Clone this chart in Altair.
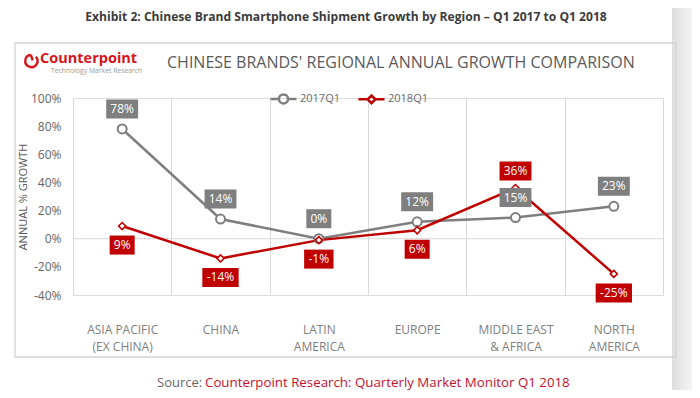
import altair as alt
import pandas as pd

# ---------------- data ----------------
regions = ["ASIA PACIFIC\n(EX CHINA)", "CHINA", "LATIN\nAMERICA", "EUROPE",
           "MIDDLE EAST\n& AFRICA", "NORTH\nAMERICA"]
series_names = ["2017Q1", "2018Q1"]
growth_2017 = [78, 14, 0, 12, 15, 23]
growth_2018 = [9, -14, -1, 6, 36, -25]
y_ticks = [-40, -20, 0, 20, 40, 60, 80, 100]

rows = []
for i, r in enumerate(regions):
    rows.append({"region": r, "series": series_names[0], "value": growth_2017[i], "other": growth_2018[i]})
    rows.append({"region": r, "series": series_names[1], "value": growth_2018[i], "other": growth_2017[i]})
df = pd.DataFrame(rows)

GRAY = "#7f7f7f"
RED = "#c00000"
FONT = "Open Sans"

W, H = 590, 197

xenc = alt.X("region:N", sort=regions,
             scale=alt.Scale(type="band", paddingInner=0, paddingOuter=0),
             axis=alt.Axis(title=None, labelExpr="split(datum.label, '\\n')",
                           tickBand="extent", grid=True, gridColor="#d9d9d9", gridWidth=1,
                           domain=False, ticks=False, labelAngle=0, labelPadding=29,
                           labelFontSize=12, labelColor="#808080", labelLineHeight=17,
                           labelBaseline="top", labelFont=FONT))
yscale = alt.Scale(domain=[-40, 100], nice=False, zero=False)
yenc = alt.Y("value:Q", scale=yscale,
             axis=alt.Axis(values=y_ticks, labelExpr="datum.value + '%'", grid=False,
                           domain=False, ticks=False, labelPadding=12, labelFontSize=12,
                           labelColor="#666666", labelFont=FONT,
                           title="ANNUAL % GROWTH", titleX=-49.5, titleY=H / 2,
                           titleAngle=270, titleAlign="center", titleBaseline="middle",
                           titleFontSize=11, titleFontWeight="normal", titleColor="#595959",
                           titleFont=FONT))

one = pd.DataFrame({"d": [0]})

# ------------- decorations -------------
band = alt.Chart(one).mark_rect(
    fill=alt.Gradient(gradient="linear", x1=0, x2=1, y1=0, y2=0,
                      stops=[alt.GradientStop(color="#dedede", offset=0),
                             alt.GradientStop(color="#f3f3f3", offset=1)])
).encode(x=alt.value(599), x2=alt.value(619), y=alt.value(-100), y2=alt.value(300))

box = alt.Chart(one).mark_rect(fill="transparent", stroke="#d4d4d4", strokeWidth=1.3).encode(
    x=alt.value(-58), x2=alt.value(603), y=alt.value(-55), y2=alt.value(259))

exhibit = alt.Chart(one).mark_text(font=FONT, fontSize=12.1, fontWeight="bold", color="#3c3c3c",
                                   align="center", baseline="middle").encode(
    x=alt.value(273), y=alt.value(-81),
    text=alt.value("Exhibit 2: Chinese Brand Smartphone Shipment Growth by Region \u2013 Q1 2017 to Q1 2018"))

logo_icon = alt.Chart(one).mark_point(
    shape="M0.7,-0.7A1,1 0 1,1 -0.1,-1M-0.1,-1L0.2,-0.1", size=150, filled=False,
    stroke="#d7141a", strokeWidth=2.4, opacity=1).encode(x=alt.value(-41.5), y=alt.value(-37))

logo_text = alt.Chart(one).mark_text(font=FONT, fontSize=14.5, fontWeight="bold", color="#d7141a",
                                     align="left", baseline="middle").encode(
    x=alt.value(-33), y=alt.value(-39), text=alt.value("Counterpoint"))

logo_sub = alt.Chart(one).mark_text(font=FONT, fontSize=6.8, color="#9a9a9a",
                                    align="left", baseline="middle").encode(
    x=alt.value(-22), y=alt.value(-27), text=alt.value("Technology Market Research"))

subtitle = alt.Chart(one).mark_text(font=FONT, fontSize=16, color="#5a5a5a",
                                    align="left", baseline="middle").encode(
    x=alt.value(94), y=alt.value(-35),
    text=alt.value("CHINESE BRANDS' REGIONAL ANNUAL GROWTH COMPARISON"))

src1 = alt.Chart(one).mark_text(font=FONT, fontSize=13, color="#666666",
                                align="left", baseline="middle").encode(
    x=alt.value(84), y=alt.value(285), text=alt.value("Source:"))
src2 = alt.Chart(one).mark_text(font=FONT, fontSize=13.3, color="#c8102e",
                                align="left", baseline="middle").encode(
    x=alt.value(132), y=alt.value(285),
    text=alt.value("Counterpoint Research: Quarterly Market Monitor Q1 2018"))

# ------------- data layers -------------
zero_rule = alt.Chart(pd.DataFrame({"value": [0]})).mark_rule(color="#d9d9d9", strokeWidth=1).encode(
    y=yenc)

legend_paths = [
    "M-1,0L-0.35,0M0.35,0L1,0M-0.35,0A0.35,0.35 0 1,1 0.35,0A0.35,0.35 0 1,1 -0.35,0",
    "M-1,0L-0.3,0M0.3,0L1,0M-0.3,0L0,-0.3L0.3,0L0,0.3Z",
]
leg = alt.Legend(title=None, orient="none", legendX=196, legendY=-14,
                 direction="horizontal", symbolSize=676, symbolStrokeWidth=2.5,
                 symbolOpacity=1, symbolFillColor="white",
                 labelFontSize=11, labelColor="#6b6b6b", labelFont=FONT,
                 labelOffset=2, columnPadding=12, padding=0)
color_enc = alt.Color("series:N", scale=alt.Scale(domain=series_names, range=[GRAY, RED]), legend=leg)
shape_enc = alt.Shape("series:N", scale=alt.Scale(domain=series_names, range=legend_paths), legend=leg)

lines = alt.Chart(df).mark_line(strokeWidth=2.5).encode(x=xenc, y=yenc, color=color_enc)

legend_layer = alt.Chart(df).mark_point(filled=False, size=0, strokeWidth=2.5).encode(
    x=xenc, y=yenc, color=color_enc, shape=shape_enc)

pts17 = alt.Chart(df).transform_filter(alt.datum.series == series_names[0]).mark_point(
    shape="circle", size=81, filled=True, fill="white", stroke=GRAY, strokeWidth=2, opacity=1
).encode(x=xenc, y=yenc)
pts18 = alt.Chart(df).transform_filter(alt.datum.series == series_names[1]).mark_point(
    shape="diamond", size=50, filled=True, fill="white", stroke=RED, strokeWidth=1.6, opacity=1
).encode(x=xenc, y=yenc)

bw_expr = ("(length(datum.label) - 1 - (datum.value < 0 ? 1 : 0)) * 6.9 + 18.1 + "
           "(datum.value < 0 ? 4.4 : 0)")


def label_layer(filter_expr, fill, dy):
    base = alt.Chart(df).transform_filter(filter_expr).transform_calculate(
        label="datum.value + '%'").transform_calculate(bw=bw_expr)
    boxes = base.mark_rule(color=fill, strokeCap="butt", opacity=1,
                           yOffset=dy - 9.5, y2Offset=dy + 9.5).encode(
        x=xenc, y=yenc, y2="value:Q",
        strokeWidth=alt.StrokeWidth("bw:Q", scale=None, legend=None))
    texts = base.mark_text(font=FONT, fontSize=12, color="white", baseline="middle",
                           align="center", yOffset=dy).encode(
        x=xenc, y=yenc, text="label:N")
    return [boxes, texts]


lab17 = label_layer("datum.series === '2017Q1'", GRAY, -20)
lab18_below = label_layer("datum.series === '2018Q1' && datum.value <= datum.other", RED, 19)
lab18_above = label_layer("datum.series === '2018Q1' && datum.value > datum.other", RED, -17)

chart = alt.layer(
    band, box, exhibit, logo_icon, logo_text, logo_sub, subtitle, src1, src2,
    zero_rule, lines, legend_layer, pts17, pts18, *lab17, *lab18_below, *lab18_above
).properties(
    width=W, height=H,
    autosize=alt.AutoSizeParams(type="none"),
    padding={"left": 65, "top": 90, "right": 29, "bottom": 95},
).configure_view(stroke=None).configure(font=FONT)

chart.save("out.html", embed_options={"renderer": "svg", "actions": False})
